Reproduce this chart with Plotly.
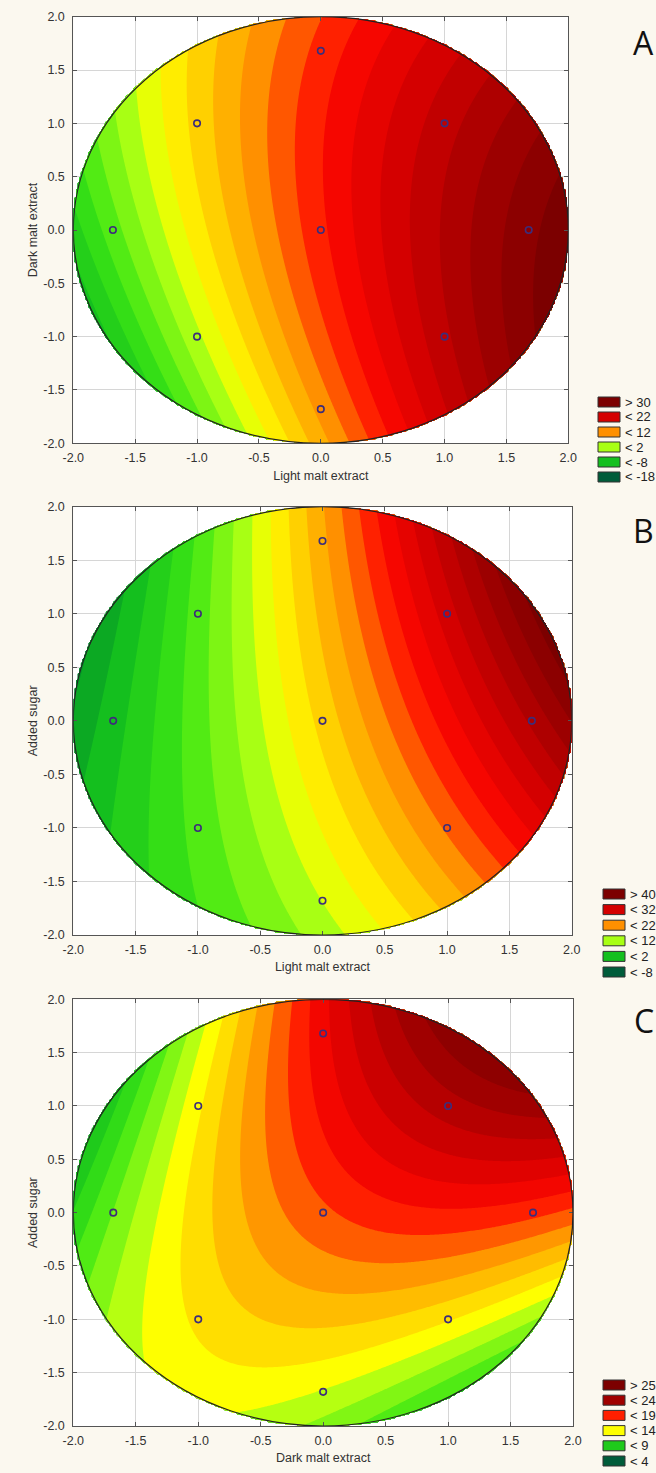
import numpy as np
import plotly.graph_objects as go
from plotly.colors import sample_colorscale

# ---------------- data ----------------
# central composite design points (coded levels)
design_x = [-1, 1, -1, 1, -1.68, 1.68, 0, 0, 0]
design_y = [-1, -1, 1, 1, 0, 0, -1.68, 1.68, 0]

# responses read at the design points (surface values)
resp_A = [1.5, 23.5, 6.7, 23.1, -2.9, 29.4, 10.7, 14.7, 15.5]
resp_B = [5.0, 20.5, 6.0, 30.0, 2.0, 35.5, 13.5, 20.0, 18.3]
resp_C = [13.8, 13.6, 13.5, 23.5, 11.0, 17.5, 12.5, 19.5, 18.5]

# additional surface readings for panel C (points on contour bands)
extra_C_x = [-0.65, -0.88, -0.85, -0.61, 0.29, 1.23, 1.90, -0.29, -0.24, -0.08, 0.83, 2.00,
             1.20, 1.70, -1.90, -1.50, 1.20, 0.50]
extra_C_y = [1.87, 0.30, -0.47, -0.82, -0.97, -0.88, -0.57, 1.95, 0.60, -0.25, -0.26, 0.00,
             1.50, 0.80, 0.00, 1.20, -1.40, -1.85]
extra_C_v = [15, 15, 15, 15, 15, 15, 15, 17.5, 17.5, 17.5, 17.5, 17.5,
             25, 22, 10, 10, 10.5, 12]

# contour levels (start, end, step)
levels_A = (-18, 30, 2)
levels_B = (-8, 40, 2)
levels_C = (4, 25, 1)

# legend labels
legend_A = ["> 30", "< 22", "< 12", "< 2", "< -8", "< -18"]
legend_B = ["> 40", "< 32", "< 22", "< 12", "< 2", "< -8"]
legend_C = ["> 25", "< 24", "< 19", "< 14", "< 9", "< 4"]

# axis titles
xtitle = ["Light malt extract", "Light malt extract", "Dark malt extract"]
ytitle = ["Dark malt extract", "Added sugar", "Added sugar"]
panel_letters = ["A", "B", "C"]

tick_vals = [-2.0, -1.5, -1.0, -0.5, 0.0, 0.5, 1.0, 1.5, 2.0]
tick_text = ["-2.0", "-1.5", "-1.0", "-0.5", "0.0", "0.5", "1.0", "1.5", "2.0"]

# ---------------- style ----------------
W, H = 656, 1473
BG = "#FBF8EF"
FONT = "Liberation Sans, Arial, sans-serif"
colorscale = [
    [0.00, "#005c3a"],
    [0.10, "#00892a"],
    [0.20, "#14bf1e"],
    [0.30, "#3ce614"],
    [0.40, "#a8ff14"],
    [0.455, "#ffff00"],
    [0.52, "#ffd000"],
    [0.60, "#ff9000"],
    [0.66, "#ff3a00"],
    [0.70, "#ff0800"],
    [0.80, "#d40000"],
    [0.90, "#a40000"],
    [1.00, "#7c0000"],
]

# pixel layout of each panel: (left, right, top, bottom)
panels_px = [
    (73.3, 568.3, 16.7, 443.3),
    (73.3, 571.7, 506.7, 935.0),
    (73.3, 573.0, 999.3, 1426.0),
]
legend_px = [  # box left, first row center y, row spacing
    (598, 402, 15.0),
    (603, 894, 15.6),
    (603, 1385, 15.2),
]
letter_y = [42, 530, 1020]


def px_x(p):
    return p / W


def px_y(p):
    return 1 - p / H


def fit_surface(xs, ys, vs, grid):
    X = np.array(xs, float)
    Y = np.array(ys, float)
    A = np.column_stack([np.ones_like(X), X, Y, X ** 2, Y ** 2, X * Y])
    coef, *_ = np.linalg.lstsq(A, np.array(vs, float), rcond=None)
    gx, gy = np.meshgrid(grid, grid)
    Z = (coef[0] + coef[1] * gx + coef[2] * gy + coef[3] * gx ** 2
         + coef[4] * gy ** 2 + coef[5] * gx * gy)
    r = np.sqrt(gx ** 2 + gy ** 2)
    Z[r > 2.0 + (grid[1] - grid[0]) * 0.9] = np.nan
    return Z


grid = np.linspace(-2.0, 2.0, 321)

fig = go.Figure()
shapes = []
annotations = []

samples = [
    (design_x, design_y, resp_A),
    (design_x, design_y, resp_B),
    (design_x + extra_C_x, design_y + extra_C_y, resp_C + extra_C_v),
]
data = [(levels_A, legend_A), (levels_B, legend_B), (levels_C, legend_C)]

for i, (lev, leg) in enumerate(data):
    k = "" if i == 0 else str(i + 1)
    xa, ya = "x" + k, "y" + k
    start, end, size = lev
    Z = fit_surface(*samples[i], grid)
    fig.add_trace(go.Contour(
        x=grid, y=grid, z=Z, xaxis=xa, yaxis=ya,
        colorscale=colorscale, showscale=False,
        contours=dict(start=start, end=end, size=size, coloring="fill", showlines=False),
        line=dict(width=0), connectgaps=False, hoverinfo="skip",
    ))
    fig.add_trace(go.Scatter(
        x=design_x, y=design_y, xaxis=xa, yaxis=ya, mode="markers",
        marker=dict(symbol="circle-open", size=6.5, color="#3d2d7a", line=dict(width=1.6)),
        hoverinfo="skip", showlegend=False,
    ))
    shapes.append(dict(type="circle", xref=xa, yref=ya, x0=-2, x1=2, y0=-2, y1=2,
                       line=dict(color="#222222", width=1.2), layer="above"))

    l, r, t, b = panels_px[i]
    axis_common = dict(
        range=[-2, 2], tickvals=tick_vals, ticktext=tick_text,
        showgrid=True, gridcolor="#d6d6d6", gridwidth=1, zeroline=False,
        showline=True, linecolor="#555555", linewidth=1, mirror="ticks",
        ticks="inside", ticklen=4, tickcolor="#555555", automargin=False,
        tickfont=dict(family=FONT, size=12.5, color="#333333"),
    )
    fig.layout["xaxis" + k] = dict(
        axis_common, domain=[px_x(l), px_x(r)], anchor=ya,
        title=dict(text=xtitle[i], font=dict(family=FONT, size=12.5, color="#333333"), standoff=6),
        ticklabelstandoff=3,
    )
    fig.layout["yaxis" + k] = dict(
        axis_common, domain=[px_y(b), px_y(t)], anchor=xa,
        title=dict(text=ytitle[i], font=dict(family=FONT, size=12.5, color="#333333"), standoff=2),
        ticklabelstandoff=5,
    )

    # discrete legend
    bx, by0, dy = legend_px[i]
    lo, hi = start - size / 2, end + size / 2
    band_vals = [end + size / 2] + [float(s.replace("<", "").strip()) - size / 2
                                    for s in leg[1:]]
    for j, (lab, v) in enumerate(zip(leg, band_vals)):
        tt = min(max((v - lo) / (hi - lo), 0), 1)
        col = sample_colorscale(colorscale, [tt])[0]
        cy = by0 + j * dy
        shapes.append(dict(type="rect", xref="paper", yref="paper",
                           x0=px_x(bx), x1=px_x(bx + 22), y0=px_y(cy + 5), y1=px_y(cy - 5),
                           fillcolor=col, line=dict(color="#333333", width=1)))
        annotations.append(dict(x=px_x(bx + 25), y=px_y(cy), xref="paper", yref="paper",
                                text=lab, showarrow=False, xanchor="left", yanchor="middle",
                                font=dict(family=FONT, size=13, color="#222222")))
    annotations.append(dict(x=1.0, y=px_y(letter_y[i]), xref="paper", yref="paper",
                            text=panel_letters[i], showarrow=False, xanchor="right",
                            yanchor="middle", font=dict(family="Open Sans, Liberation Sans", size=32,
                                                        color="#111111")))

fig.update_layout(
    width=W, height=H, margin=dict(l=0, r=0, t=0, b=0, autoexpand=False),
    paper_bgcolor=BG, plot_bgcolor="#ffffff", showlegend=False,
    shapes=shapes, annotations=annotations,
)

fig.write_html("out.html")
